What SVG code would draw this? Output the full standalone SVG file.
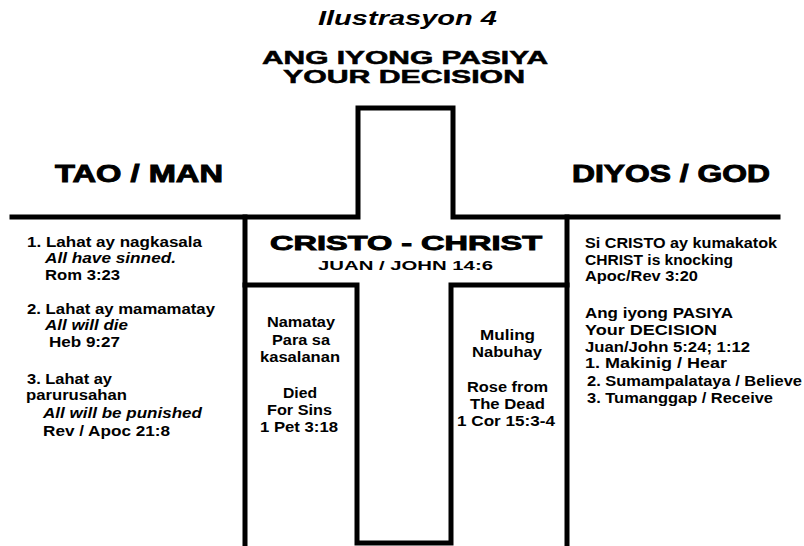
<svg xmlns="http://www.w3.org/2000/svg" width="804" height="546" viewBox="0 0 804 546">
<style>
  .ln { fill: none; stroke: #000; stroke-width: 5; stroke-linecap: square; stroke-linejoin: miter; }
  text { font-family: "Liberation Sans", Arial, sans-serif; font-weight: bold; fill: #000; }
  .t { font-size: 14.5px; }
  .i { font-style: italic; }
  .h { font-size: 23px; stroke: #000; stroke-width: 0.9; }
  .title { font-size: 21px; }
  .sub { font-size: 18px; stroke: #000; stroke-width: 0.5; }
  .c { text-anchor: middle; }
</style>
<rect width="804" height="546" fill="#fff"/>
<g id="cross">
  <path class="ln" d="M12 217 H358 V108 H453 V217 H778"/>
  <path class="ln" d="M245 217 V546"/>
  <path class="ln" d="M567 217 V546"/>
  <path class="ln" d="M245 285 H357 V543 H451 V285 H567"/>
</g>
<g id="title">
  <text class="title i c" x="407.5" y="25" textLength="179" lengthAdjust="spacingAndGlyphs">Ilustrasyon 4</text>
  <text class="sub c" x="405" y="64" textLength="286" lengthAdjust="spacingAndGlyphs">ANG IYONG PASIYA</text>
  <text class="sub c" x="404" y="83" textLength="242" lengthAdjust="spacingAndGlyphs">YOUR DECISION</text>
</g>
<g id="man">
  <text class="h" x="55" y="182" textLength="168" lengthAdjust="spacingAndGlyphs">TAO / MAN</text>
  <text class="t" x="27" y="247" textLength="175" lengthAdjust="spacingAndGlyphs">1. Lahat ay nagkasala</text>
  <text class="t i" x="45" y="263" textLength="131" lengthAdjust="spacingAndGlyphs">All have sinned.</text>
  <text class="t" x="45" y="280" textLength="75" lengthAdjust="spacingAndGlyphs">Rom 3:23</text>
  <text class="t" x="27" y="314" textLength="188" lengthAdjust="spacingAndGlyphs">2. Lahat ay mamamatay</text>
  <text class="t i" x="45" y="330" textLength="83" lengthAdjust="spacingAndGlyphs">All will die</text>
  <text class="t" x="49" y="347" textLength="71" lengthAdjust="spacingAndGlyphs">Heb 9:27</text>
  <text class="t" x="27" y="384" textLength="85" lengthAdjust="spacingAndGlyphs">3. Lahat ay</text>
  <text class="t" x="26" y="400" textLength="101" lengthAdjust="spacingAndGlyphs">parurusahan</text>
  <text class="t i" x="43" y="418" textLength="159" lengthAdjust="spacingAndGlyphs">All will be punished</text>
  <text class="t" x="43" y="436" textLength="127" lengthAdjust="spacingAndGlyphs">Rev / Apoc 21:8</text>
</g>
<g id="christ">
  <text class="h c" x="406" y="250" style="font-size:21px" textLength="272" lengthAdjust="spacingAndGlyphs">CRISTO - CHRIST</text>
  <text class="c" x="405.5" y="270" style="font-size:13.5px" textLength="175" lengthAdjust="spacingAndGlyphs">JUAN / JOHN 14:6</text>
</g>
<g id="died">
  <text class="t c" x="301" y="327" textLength="68" lengthAdjust="spacingAndGlyphs">Namatay</text>
  <text class="t c" x="301" y="345" textLength="58" lengthAdjust="spacingAndGlyphs">Para sa</text>
  <text class="t c" x="300" y="362" textLength="80" lengthAdjust="spacingAndGlyphs">kasalanan</text>
  <text class="t c" x="300" y="398" textLength="34" lengthAdjust="spacingAndGlyphs">Died</text>
  <text class="t c" x="299.5" y="415" textLength="65" lengthAdjust="spacingAndGlyphs">For Sins</text>
  <text class="t c" x="299" y="432" textLength="78" lengthAdjust="spacingAndGlyphs">1 Pet 3:18</text>
</g>
<g id="rose">
  <text class="t c" x="507.5" y="340" textLength="55" lengthAdjust="spacingAndGlyphs">Muling</text>
  <text class="t c" x="507" y="357" textLength="70" lengthAdjust="spacingAndGlyphs">Nabuhay</text>
  <text class="t c" x="507.5" y="392" textLength="81" lengthAdjust="spacingAndGlyphs">Rose from</text>
  <text class="t c" x="507.5" y="409" textLength="75" lengthAdjust="spacingAndGlyphs">The Dead</text>
  <text class="t c" x="506" y="426" textLength="98" lengthAdjust="spacingAndGlyphs">1 Cor 15:3-4</text>
</g>
<g id="god">
  <text class="h" x="572" y="182" textLength="198" lengthAdjust="spacingAndGlyphs">DIYOS / GOD</text>
  <text class="t" x="585" y="248" textLength="192" lengthAdjust="spacingAndGlyphs">Si CRISTO ay kumakatok</text>
  <text class="t" x="585" y="265" textLength="148" lengthAdjust="spacingAndGlyphs">CHRIST is knocking</text>
  <text class="t" x="585" y="281" textLength="113" lengthAdjust="spacingAndGlyphs">Apoc/Rev 3:20</text>
  <text class="t" x="585" y="318" textLength="148" lengthAdjust="spacingAndGlyphs">Ang iyong PASIYA</text>
  <text class="t" x="585" y="335" textLength="132" lengthAdjust="spacingAndGlyphs">Your DECISION</text>
  <text class="t" x="585" y="352" textLength="165" lengthAdjust="spacingAndGlyphs">Juan/John 5:24; 1:12</text>
  <text class="t" x="585" y="368" textLength="142" lengthAdjust="spacingAndGlyphs">1. Makinig / Hear</text>
  <text class="t" x="587" y="386" textLength="215" lengthAdjust="spacingAndGlyphs">2. Sumampalataya / Believe</text>
  <text class="t" x="587" y="403" textLength="186" lengthAdjust="spacingAndGlyphs">3. Tumanggap / Receive</text>
</g>
</svg>
